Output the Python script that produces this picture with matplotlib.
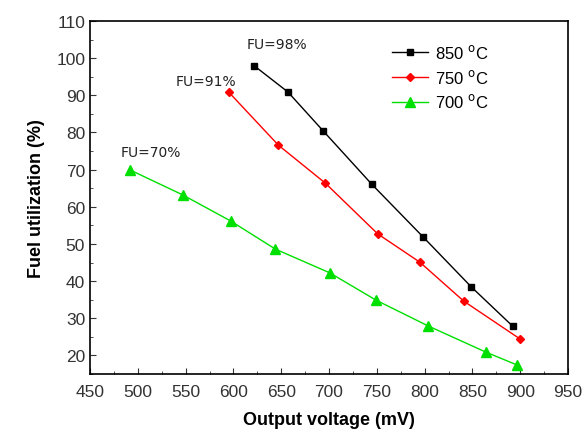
import matplotlib
matplotlib.use("Agg")
import matplotlib.pyplot as plt
from matplotlib.ticker import MultipleLocator

plt.rcParams['font.family'] = ['Liberation Sans', 'DejaVu Sans']

# Output voltage (mV) vs fuel utilization (%)
v_850 = [622, 657, 694, 745, 798, 849, 892]
fu_850 = [97.9, 90.9, 80.4, 66.0, 52.0, 38.4, 27.9]
v_750 = [595, 647, 696, 751, 795, 841, 900]
fu_750 = [90.9, 76.6, 66.4, 52.7, 45.1, 34.6, 24.4]
v_700 = [492, 547, 597, 644, 701, 749, 804, 864, 897]
fu_700 = [69.9, 63.2, 56.2, 48.6, 42.2, 34.9, 27.9, 20.9, 17.4]

fig = plt.figure(figsize=(5.86, 4.39), dpi=100)
ax = fig.add_axes([90 / 586, 1 - 375 / 439, 478 / 586, 353 / 439])

ax.plot(v_850, fu_850, color='black', marker='s', markersize=5, lw=1, label='850 $^{\\mathrm{o}}$C')
ax.plot(v_750, fu_750, color='red', marker='D', markersize=4, lw=1, label='750 $^{\\mathrm{o}}$C')
ax.plot(v_700, fu_700, color='#00e000', marker='^', markersize=7, lw=1, label='700 $^{\\mathrm{o}}$C')

ann = dict(fontsize=10, color='#222222', family='DejaVu Sans', va='bottom')
ax.text(v_850[0] - 8, fu_850[0] + 4, 'FU=98%', **ann)
ax.text(v_750[0] - 55, fu_750[0] + 1.2, 'FU=91%', **ann)
ax.text(v_700[0] - 10, fu_700[0] + 3, 'FU=70%', **ann)

ax.set_xlim(450, 950)
ax.set_ylim(15, 110)
ax.xaxis.set_major_locator(MultipleLocator(50))
ax.xaxis.set_minor_locator(MultipleLocator(25))
ax.yaxis.set_major_locator(MultipleLocator(10))
ax.yaxis.set_minor_locator(MultipleLocator(5))
ax.tick_params(which='both', direction='in', labelsize=12.5, colors='#333333')
ax.tick_params(which='major', length=4)
ax.tick_params(which='minor', length=2)
ax.tick_params(axis='x', pad=7)
for s in ax.spines.values():
    s.set_linewidth(1.2)

ax.set_xlabel('Output voltage (mV)', fontsize=13, fontweight='bold', labelpad=9)
ax.set_ylabel('Fuel utilization (%)', fontsize=13, fontweight='bold', labelpad=8)

ax.legend(loc='upper left', bbox_to_anchor=(0.6, 0.98), frameon=False, fontsize=12,
          handlelength=2.2, handletextpad=0.4, labelspacing=0.4)

fig.savefig('out.png', dpi=100)
